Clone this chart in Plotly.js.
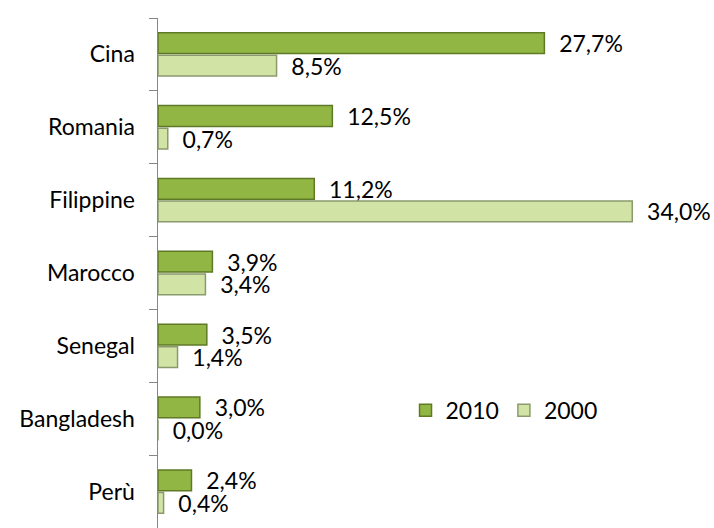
<!DOCTYPE html>
<html>
<head>
<meta charset="utf-8">
<script src="https://cdn.plot.ly/plotly-3.0.1.min.js"></script>
<style>html,body{margin:0;padding:0;background:#fff;}#chart{width:714px;height:528px;}</style>
</head>
<body>
<div id="chart"></div>
<script>
const categories = ["Cina", "Romania", "Filippine", "Marocco", "Senegal", "Bangladesh", "Perù"];
const values2010 = [27.7, 12.5, 11.2, 3.9, 3.5, 3.0, 2.4];
const values2000 = [8.5, 0.7, 34.0, 3.4, 1.4, 0.0, 0.4];
const seriesNames = ["2010", "2000"];

function fmt(v){ return '\u00a0\u00a0' + v.toFixed(1).replace('.', ',') + '%'; }

const font = {family: "Lato, 'Open Sans', sans-serif", size: 23, color: "#000"};

const traces = [
  {
    type: 'bar', orientation: 'h', name: seriesNames[0],
    y: categories, x: values2010,
    text: values2010.map(fmt), textposition: 'outside', cliponaxis: false,
    textfont: font, constraintext: 'none',
    marker: {color: '#92b644', line: {color: '#5f7a26', width: 1.5}}
  },
  {
    type: 'bar', orientation: 'h', name: seriesNames[1],
    y: categories, x: values2000,
    text: values2000.map(fmt), textposition: 'outside', cliponaxis: false,
    textfont: font, constraintext: 'none',
    marker: {color: '#d2e3a6', line: {color: '#8a9a6c', width: 1.5}}
  }
];

const layout = {
  width: 714, height: 528,
  margin: {l: 158, r: 12, t: 18, b: 0},
  paper_bgcolor: '#fff', plot_bgcolor: '#fff',
  barmode: 'group', bargap: 0.38, bargroupgap: 0.08,
  font: font,
  separators: ',.',
  showlegend: true,
  legend: {orientation: 'h', x: 0.455, y: 0.231, xanchor: 'left', yanchor: 'middle',
           font: font, bgcolor: 'rgba(0,0,0,0)', itemwidth: 30, traceorder: 'normal'},
  xaxis: {range: [0, 39], visible: false, showgrid: false, zeroline: false, fixedrange: true},
  yaxis: {type: 'category', autorange: 'reversed', showline: true, linecolor: '#868686', linewidth: 1.5,
          ticks: 'outside', ticklen: 8, tickcolor: '#868686', tickson: 'boundaries',
          showgrid: false, tickfont: font, ticklabelstandoff: 17}
};

Plotly.newPlot('chart', traces, layout, {displayModeBar: false, staticPlot: true});
</script>
</body>
</html>
